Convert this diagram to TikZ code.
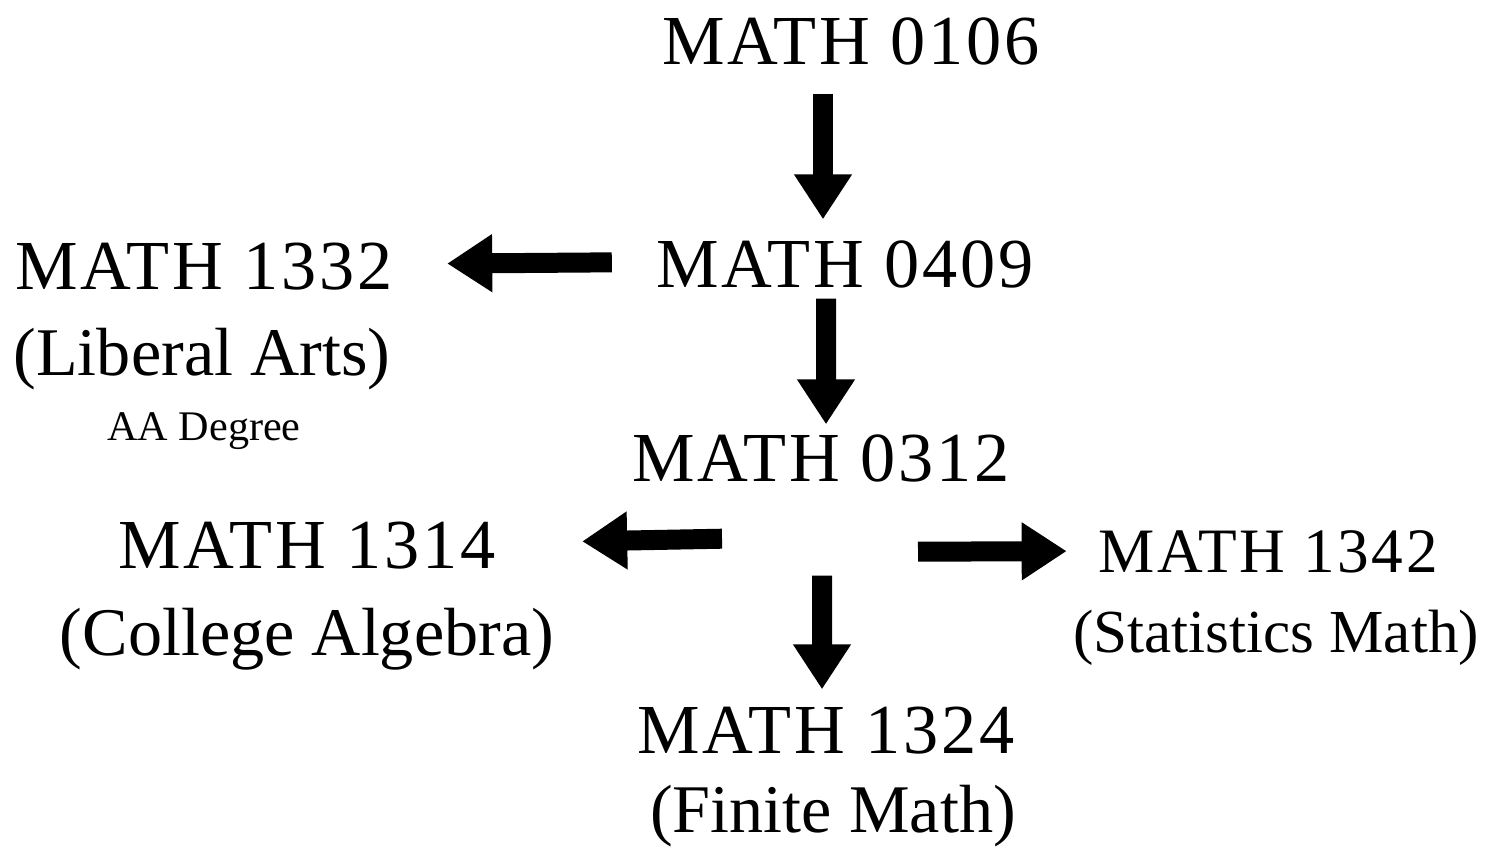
\documentclass[tikz,border=0pt]{standalone}
\usepackage{fontspec}
\setmainfont{Liberation Serif}
\newfontfamily\widefont[LetterSpace=4]{Liberation Serif}
\usetikzlibrary{arrows.meta}

\begin{document}
\begin{tikzpicture}[
        course/.style={font=\widefont\fontsize{20}{24}\selectfont, inner sep=0pt, anchor=base, text height=0.5cm, text depth=0pt},
        subname/.style={font=\fontsize{19.4}{23}\selectfont, inner sep=0pt, anchor=base},
        fat/.style={line width=0.2cm, -{Triangle[length=0.45cm,width=0.55cm]}}]
        \useasboundingbox (0,0) rectangle (14.87,8.48);
        % course nodes
        \node[course] (m0106) at (8.51,7.83) {MATH 0106};
        \node[course] (m0409) at (8.45,5.61) {MATH 0409};
        \node[course] (m1332) at (2.04,5.59) {MATH 1332};
        \node[subname] (liberal) at (2.02,4.73) {(Liberal Arts)};
        \node[subname, font=\fontsize{12}{14}\selectfont] (aa) at (2.04,4.08) {AA Degree};
        \node[course] (m0312) at (8.21,3.67) {MATH 0312};
        \node[course] (m1314) at (3.07,2.80) {MATH 1314};
        \node[subname] (college) at (3.07,1.93) {(College Algebra)};
        \node[course, font=\widefont\fontsize{18}{22}\selectfont] (m1342) at (12.68,2.76) {MATH 1342};
        \node[subname, font=\fontsize{17.4}{21}\selectfont] (stats) at (12.76,1.96) {(Statistics Math)};
        \node[course] (m1324) at (8.26,0.95) {MATH 1324};
        \node[subname] (finite) at (8.33,0.16) {(Finite Math)};
        % arrows
        \draw[fat] ([xshift=-0.28cm,yshift=-0.28cm]m0106.south) -- ([xshift=-0.22cm,yshift=0.17cm]m0409.north);
        \draw[fat, shorten <=0.44cm, shorten >=0.54cm] (m0409.west) -- (m1332.east);
        \draw[fat] ([xshift=-0.19cm,yshift=-0.11cm]m0409.south) -- ([xshift=0.05cm,yshift=0.06cm]m0312.north);
        \draw[fat, shorten >=0.86cm] ([xshift=-0.99cm,yshift=-0.57cm]m0312.south) -- (m1314.east);
        \draw[fat, shorten >=0.31cm] ([xshift=0.97cm,yshift=-0.70cm]m0312.south) -- ([yshift=-0.04cm]m1342.west);
        \draw[fat] ([xshift=0.01cm,yshift=-0.94cm]m0312.south) -- ([xshift=-0.04cm,yshift=0.13cm]m1324.north);
\end{tikzpicture}
\end{document}
